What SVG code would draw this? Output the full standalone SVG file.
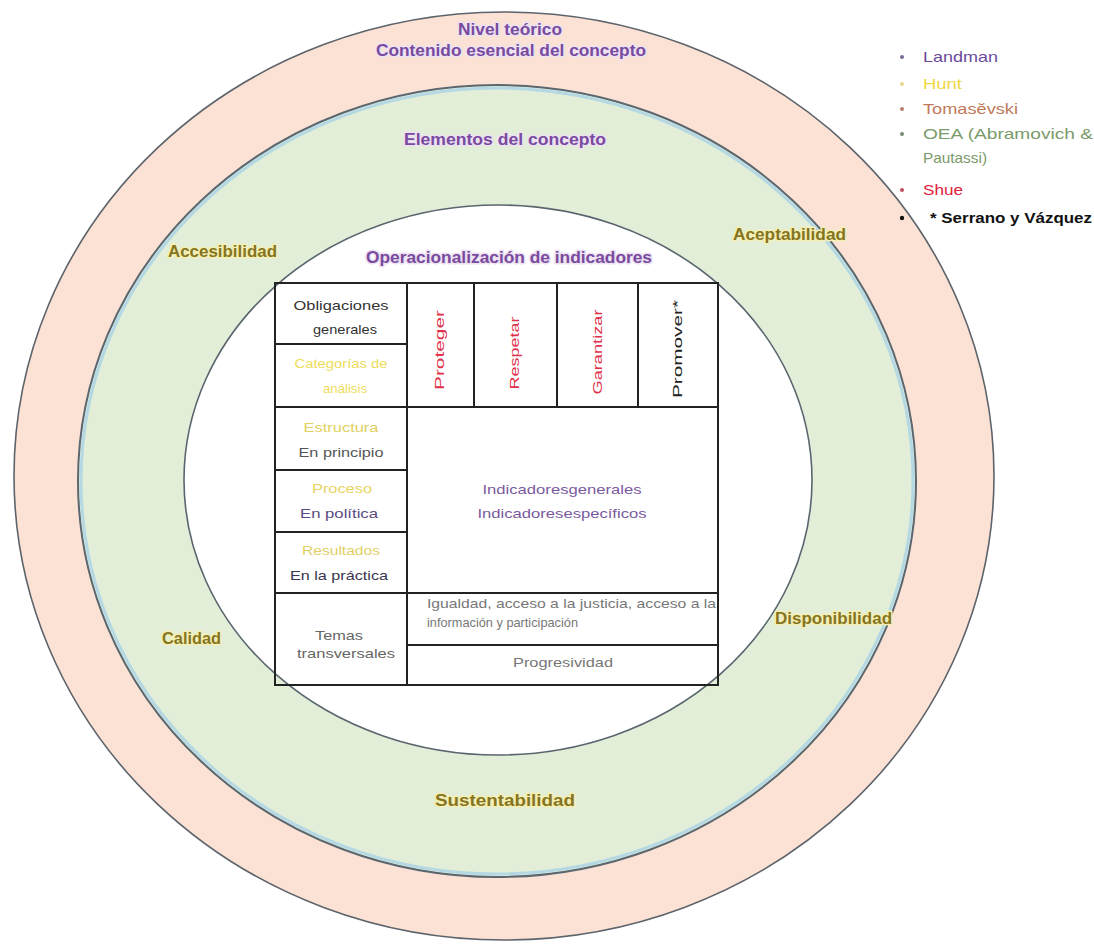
<svg xmlns="http://www.w3.org/2000/svg" width="1094" height="947" viewBox="0 0 1094 947">
<style>
.ring{font-family:"Liberation Sans",Arial,sans-serif;font-weight:bold;font-size:16px;paint-order:stroke;stroke-width:3px;stroke-linejoin:round}
.pur{fill:#7a4a9e;stroke:#ece2f2}
.oli{fill:#857522;stroke:#f4efb4}
.cell{font-family:"Liberation Sans",Arial,sans-serif;font-size:13.5px;text-anchor:middle}
.rot{font-family:"Liberation Sans",Arial,sans-serif;font-size:12.5px;text-anchor:middle}
.cl{font-family:"Liberation Sans",Arial,sans-serif;font-size:13.5px;text-anchor:start}
.leg{font-family:"Liberation Sans",Arial,sans-serif;font-size:15px}
.grid{stroke:#222;stroke-width:2;fill:none}
</style>
<rect width="1094" height="947" fill="#ffffff"/>
<g id="outer-ring">
<ellipse cx="504" cy="476" rx="490" ry="464" fill="#fbe2d4" stroke="#5d636b" stroke-width="1.6"/>
</g>
<g id="elements-ring">
<ellipse cx="497" cy="481" rx="419" ry="396" fill="#e2eed7" stroke="#5a6670" stroke-width="2"/>
<ellipse cx="497" cy="481" rx="416" ry="393" fill="none" stroke="#b4d8e4" stroke-width="3"/>
</g>
<g id="operational-ring">
<ellipse cx="498" cy="480" rx="314" ry="275" fill="#ffffff" stroke="#5a6570" stroke-width="1.6"/>
</g>
<g id="ring-labels">
<text class="ring pur" x="510" y="35" text-anchor="middle" textLength="104" lengthAdjust="spacingAndGlyphs">Nivel teórico</text>
<text class="ring pur" x="511" y="56" text-anchor="middle" textLength="270" lengthAdjust="spacingAndGlyphs">Contenido esencial del concepto</text>
<text class="ring pur" x="505" y="145" text-anchor="middle" textLength="202" lengthAdjust="spacingAndGlyphs">Elementos del concepto</text>
<text class="ring pur" x="509" y="263" text-anchor="middle" textLength="286" lengthAdjust="spacingAndGlyphs">Operacionalización  de indicadores</text>
<text class="ring oli" x="168" y="257" textLength="109" lengthAdjust="spacingAndGlyphs">Accesibilidad</text>
<text class="ring oli" x="733" y="240" textLength="113" lengthAdjust="spacingAndGlyphs">Aceptabilidad</text>
<text class="ring oli" x="162" y="644" textLength="59" lengthAdjust="spacingAndGlyphs">Calidad</text>
<text class="ring oli" x="775" y="624" textLength="117" lengthAdjust="spacingAndGlyphs">Disponibilidad</text>
<text class="ring oli" x="435" y="806" textLength="140" lengthAdjust="spacingAndGlyphs">Sustentabilidad</text>
</g>
<g id="table">
<rect x="275" y="283" width="443" height="402" fill="#ffffff" class="grid"/>
<line class="grid" x1="407" y1="283" x2="407" y2="685"/>
<line class="grid" x1="474" y1="283" x2="474" y2="407"/>
<line class="grid" x1="557" y1="283" x2="557" y2="407"/>
<line class="grid" x1="638" y1="283" x2="638" y2="407"/>
<line class="grid" x1="275" y1="344" x2="407" y2="344"/>
<line class="grid" x1="275" y1="407" x2="718" y2="407"/>
<line class="grid" x1="275" y1="470" x2="407" y2="470"/>
<line class="grid" x1="275" y1="532" x2="407" y2="532"/>
<line class="grid" x1="275" y1="593" x2="718" y2="593"/>
<line class="grid" x1="407" y1="645" x2="718" y2="645"/>
<g id="cell-obligaciones"><text class="cell" x="341" y="310" fill="#333" textLength="95" lengthAdjust="spacingAndGlyphs">Obligaciones</text><text class="cell" x="345" y="334" fill="#333" textLength="64" lengthAdjust="spacingAndGlyphs">generales</text></g>
<g id="cell-categorias"><text class="cell" x="341" y="368" fill="#eedc5a" textLength="93" lengthAdjust="spacingAndGlyphs">Categorías de</text><text class="cell" x="345" y="393" fill="#eedc5a" textLength="44" lengthAdjust="spacingAndGlyphs">análisis</text></g>
<g id="cell-proteger"><text class="rot" transform="translate(444 350) rotate(-90)" fill="#e0304a" textLength="80" lengthAdjust="spacingAndGlyphs">Proteger</text></g>
<g id="cell-respetar"><text class="rot" transform="translate(519 353) rotate(-90)" fill="#e0304a" textLength="73" lengthAdjust="spacingAndGlyphs">Respetar</text></g>
<g id="cell-garantizar"><text class="rot" transform="translate(602 352) rotate(-90)" fill="#e0304a" textLength="85" lengthAdjust="spacingAndGlyphs">Garantizar</text></g>
<g id="cell-promover"><text class="rot" transform="translate(682 349) rotate(-90)" fill="#222" textLength="98" lengthAdjust="spacingAndGlyphs">Promover*</text></g>
<g id="cell-estructura"><text class="cell" x="341" y="432" fill="#e2d060" textLength="75" lengthAdjust="spacingAndGlyphs">Estructura</text><text class="cell" x="341" y="457" fill="#555" textLength="85" lengthAdjust="spacingAndGlyphs">En principio</text></g>
<g id="cell-proceso"><text class="cell" x="342" y="493" fill="#e8d462" textLength="60" lengthAdjust="spacingAndGlyphs">Proceso</text><text class="cell" x="339" y="518" fill="#5a4a80" textLength="78" lengthAdjust="spacingAndGlyphs">En política</text></g>
<g id="cell-resultados"><text class="cell" x="341" y="555" fill="#e2cf66" textLength="78" lengthAdjust="spacingAndGlyphs">Resultados</text><text class="cell" x="339" y="580" fill="#3a3450" textLength="98" lengthAdjust="spacingAndGlyphs">En la práctica</text></g>
<g id="cell-indicadores"><text class="cell" x="562" y="494" fill="#7a5a9e" textLength="159" lengthAdjust="spacingAndGlyphs">Indicadoresgenerales</text><text class="cell" x="562" y="518" fill="#7a5a9e" textLength="169" lengthAdjust="spacingAndGlyphs">Indicadoresespecíficos</text></g>
<g id="cell-temas"><text class="cell" x="339" y="640" fill="#666" textLength="48" lengthAdjust="spacingAndGlyphs">Temas</text><text class="cell" x="346" y="658" fill="#666" textLength="98" lengthAdjust="spacingAndGlyphs">transversales</text></g>
<g id="cell-igualdad"><text class="cl" x="427" y="608" fill="#777" textLength="289" lengthAdjust="spacingAndGlyphs">Igualdad, acceso a la justicia, acceso a la</text><text class="cl" x="427" y="627" fill="#777" textLength="151" lengthAdjust="spacingAndGlyphs">información y participación</text></g>
<g id="cell-progresividad"><text class="cell" x="563" y="667" fill="#777" textLength="100" lengthAdjust="spacingAndGlyphs">Progresividad</text></g>
</g>
<g id="legend">
<circle cx="902" cy="57" r="2" fill="#7a6a9a"/><text class="leg" x="923" y="62" fill="#6a4a9a" textLength="75" lengthAdjust="spacingAndGlyphs">Landman</text>
<circle cx="902" cy="84" r="2" fill="#e8d890"/><text class="leg" x="923" y="89" fill="#f0d840" textLength="39" lengthAdjust="spacingAndGlyphs">Hunt</text>
<circle cx="902" cy="109" r="2" fill="#b88068"/><text class="leg" x="923" y="114" fill="#c0785a" textLength="95" lengthAdjust="spacingAndGlyphs">Tomasĕvski</text>
<circle cx="902" cy="134" r="2" fill="#7a8a70"/><text class="leg" x="923" y="139" fill="#7a9a6a" textLength="170" lengthAdjust="spacingAndGlyphs">OEA (Abramovich &amp;</text>
<text class="leg" x="923" y="163" fill="#7a9a6a" textLength="64" lengthAdjust="spacingAndGlyphs">Pautassi)</text>
<circle cx="902" cy="190" r="2" fill="#c05060"/><text class="leg" x="923" y="195" fill="#e0203a" textLength="40" lengthAdjust="spacingAndGlyphs">Shue</text>
<circle cx="902" cy="218" r="2.2" fill="#111"/><text class="leg" x="930" y="223" fill="#111" font-weight="bold" textLength="162" lengthAdjust="spacingAndGlyphs">* Serrano y Vázquez</text>
</g>
</svg>
